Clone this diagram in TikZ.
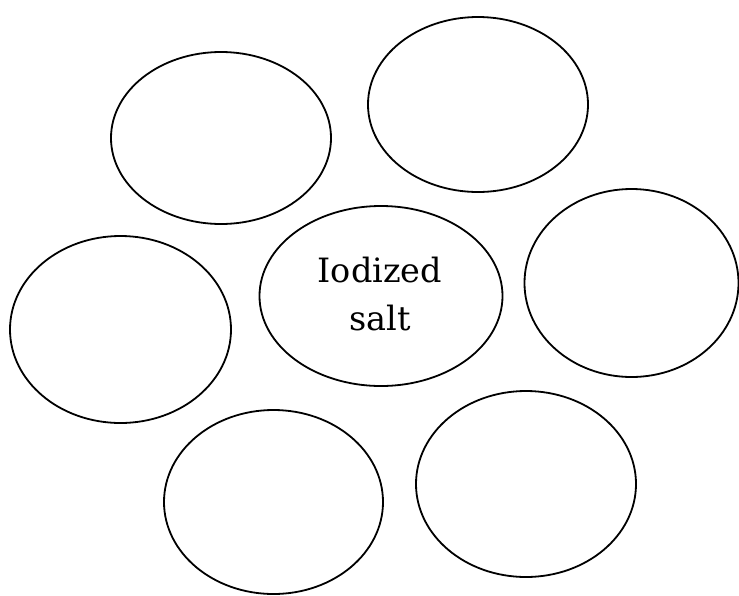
\documentclass[tikz,border=0pt]{standalone}
\usepackage{fontspec}
\setmainfont{DejaVu Serif}
\begin{document}
\begin{tikzpicture}[x=1pt,y=-1pt,
  bubble/.style={draw=black,line width=1.8pt},
  label/.style={font=\fontsize{33.5}{48}\selectfont,anchor=base}]
\useasboundingbox (0,0) rectangle (739,595);
\draw[bubble] (221,138) ellipse [x radius=110, y radius=86];
\draw[bubble] (478,104.5) ellipse [x radius=110, y radius=87.5];
\draw[bubble] (631.5,283) ellipse [x radius=107, y radius=94];
\draw[bubble] (381,296) ellipse [x radius=121.5, y radius=90];
\draw[bubble] (120.5,329.5) ellipse [x radius=110.5, y radius=93.5];
\draw[bubble] (273.5,502) ellipse [x radius=109.5, y radius=92];
\draw[bubble] (526,484) ellipse [x radius=110, y radius=93];
\node[label] (c) at (380,282) {Iodized};
\node[label] (d) at (380,330) {salt};
\end{tikzpicture}
\end{document}
